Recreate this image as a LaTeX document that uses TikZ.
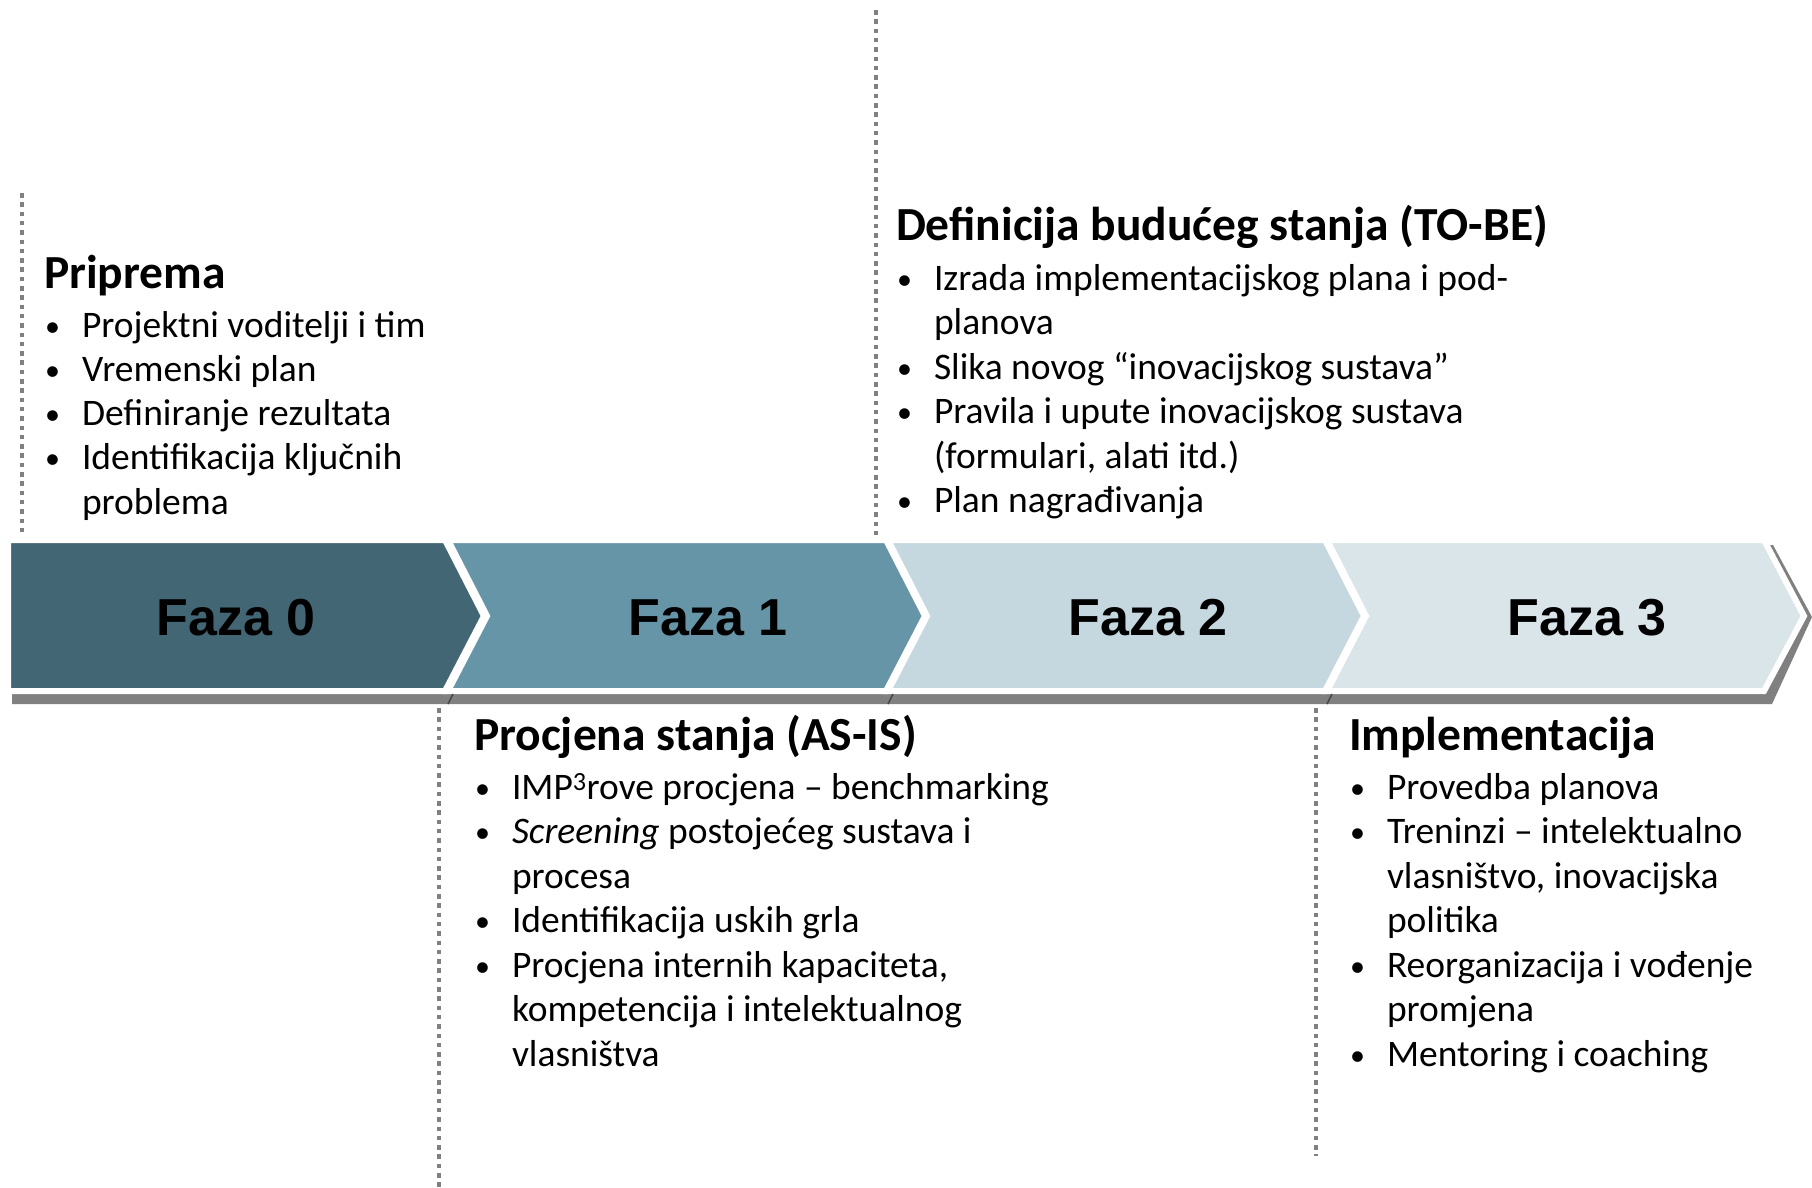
\documentclass[tikz,border=0pt]{standalone}
\usepackage{fontspec}
\setmainfont{Carlito}
\newfontfamily\fazafont{Liberation Sans}
\definecolor{czero}{RGB}{67,102,116}
\definecolor{cone}{RGB}{103,149,168}
\definecolor{ctwo}{RGB}{198,216,223}
\definecolor{cthree}{RGB}{218,229,234}
\definecolor{shadowgray}{RGB}{128,128,128}
\definecolor{tickgray}{RGB}{70,70,70}
\definecolor{dotgray}{RGB}{128,128,128}
\newcommand\mybul{\makebox[38bp][l]{\hspace{1bp}\raisebox{1bp}{\scalebox{0.8}{•}}}}
\newcommand\bitem[3]{\node[bodytxt] (#1) at (#2) {\mybul#3};}
\newcommand\citem[3]{\node[bodytxt] (#1) at (#2) {#3};}
\begin{document}
\begin{tikzpicture}[x=1bp,y=-1bp,
  chev/.style={draw=white, line width=6bp, line join=miter},
  dotline/.style={draw=dotgray, line width=4.5bp, dash pattern=on 4.5bp off 4.8bp},
  headtxt/.style={anchor=base west, inner sep=0pt, outer sep=0pt, font=\fontsize{47.5bp}{56bp}\bfseries\selectfont},
  bodytxt/.style={anchor=base west, inner sep=0pt, outer sep=0pt, font=\fontsize{37.5bp}{45bp}\selectfont},
  fazatxt/.style={anchor=base, inner sep=0pt, outer sep=0pt, font=\fazafont\fontsize{52bp}{60bp}\bfseries\selectfont},
  tick/.style={draw=tickgray, line width=1.5bp}]
\useasboundingbox (0,0) rectangle (1812,1187);
\fill[white] (0,0) rectangle (1812,1187);
% shadow
\fill[shadowgray] (1400,545) -- (1773,545) -- (1812,617) -- (1772,704) -- (12,704) -- (12,693) -- (1400,693) -- cycle;
% chevrons
\filldraw[chev, fill=czero] (8,540) -- (445,540) -- (484,616) -- (445,691) -- (8,691) -- cycle;
\filldraw[chev, fill=cone] (448,540) -- (886,540) -- (925,616) -- (886,691) -- (448,691) -- (487,616) -- cycle;
\filldraw[chev, fill=ctwo] (888,540) -- (1325,540) -- (1364,616) -- (1325,691) -- (888,691) -- (927,616) -- cycle;
\filldraw[chev, fill=cthree] (1327,540) -- (1764,540) -- (1804,616) -- (1764,691) -- (1327,691) -- (1366,616) -- cycle;
% small dark ticks in shadow
\draw[tick] (453,694) -- (448,704);
\draw[tick] (893,694) -- (888,704);
\draw[tick] (1332,694) -- (1327,704);
% phase labels
\node[fazatxt] (f0) at (236,635) {Faza 0};
\node[fazatxt] (f1) at (708,635) {Faza 1};
\node[fazatxt] (f2) at (1148,635) {Faza 2};
\node[fazatxt] (f3) at (1587,635) {Faza 3};
% dotted lines
\coordinate (v0t) at (22,193);
\coordinate (v0b) at (22,536);
\coordinate (v2t) at (876,10);
\coordinate (v2b) at (876,536);
\coordinate (v1t) at (439,708);
\coordinate (v1b) at (439,1187);
\coordinate (v3t) at (1316,708);
\coordinate (v3b) at (1316,1156);
\draw[dotline] (v0t) -- (v0b);
\draw[dotline] (v2t) -- (v2b);
\draw[dotline] (v1t) -- (v1b);
\draw[dotline] (v3t) -- (v3b);
% block 0
\node[headtxt] (h0) at (44,288) {Priprema};
\bitem{a1}{44,337}{Projektni voditelji i tim}
\bitem{a2}{44,381.3}{Vremenski plan}
\bitem{a3}{44,425.6}{Definiranje rezultata}
\bitem{a4}{44,469.9}{Identifikacija ključnih}
\citem{a5}{82,514.2}{problema}
% block 2
\node[headtxt] (h2) at (896,240) {Definicija budućeg stanja (TO-BE)};
\bitem{c1}{896,290}{Izrada implementacijskog plana i pod-}
\citem{c2}{934,334.5}{planova}
\bitem{c3}{896,379}{Slika novog “inovacijskog sustava”}
\bitem{c4}{896,423.5}{Pravila i upute inovacijskog sustava}
\citem{c5}{934,468}{(formulari, alati itd.)}
\bitem{c6}{896,512.5}{Plan nagrađivanja}
% block 1
\node[headtxt] (h1) at (474,750) {Procjena stanja (AS-IS)};
\bitem{b1}{474,799}{IMP\textsuperscript{3}rove procjena – benchmarking}
\bitem{b2}{474,843.5}{\textit{Screening} postojećeg sustava i}
\citem{b3}{512,888}{procesa}
\bitem{b4}{474,932.5}{Identifikacija uskih grla}
\bitem{b5}{474,977}{Procjena internih kapaciteta,}
\citem{b6}{512,1021.5}{kompetencija i intelektualnog}
\citem{b7}{512,1066}{vlasništva}
% block 3
\node[headtxt] (h3) at (1349,750) {Implementacija};
\bitem{d1}{1349,799}{Provedba planova}
\bitem{d2}{1349,843.5}{Treninzi – intelektualno}
\citem{d3}{1387,888}{vlasništvo, inovacijska}
\citem{d4}{1387,932.5}{politika}
\bitem{d5}{1349,977}{Reorganizacija i vođenje}
\citem{d6}{1387,1021.5}{promjena}
\bitem{d7}{1349,1066}{Mentoring i coaching}
\end{tikzpicture}
\end{document}
